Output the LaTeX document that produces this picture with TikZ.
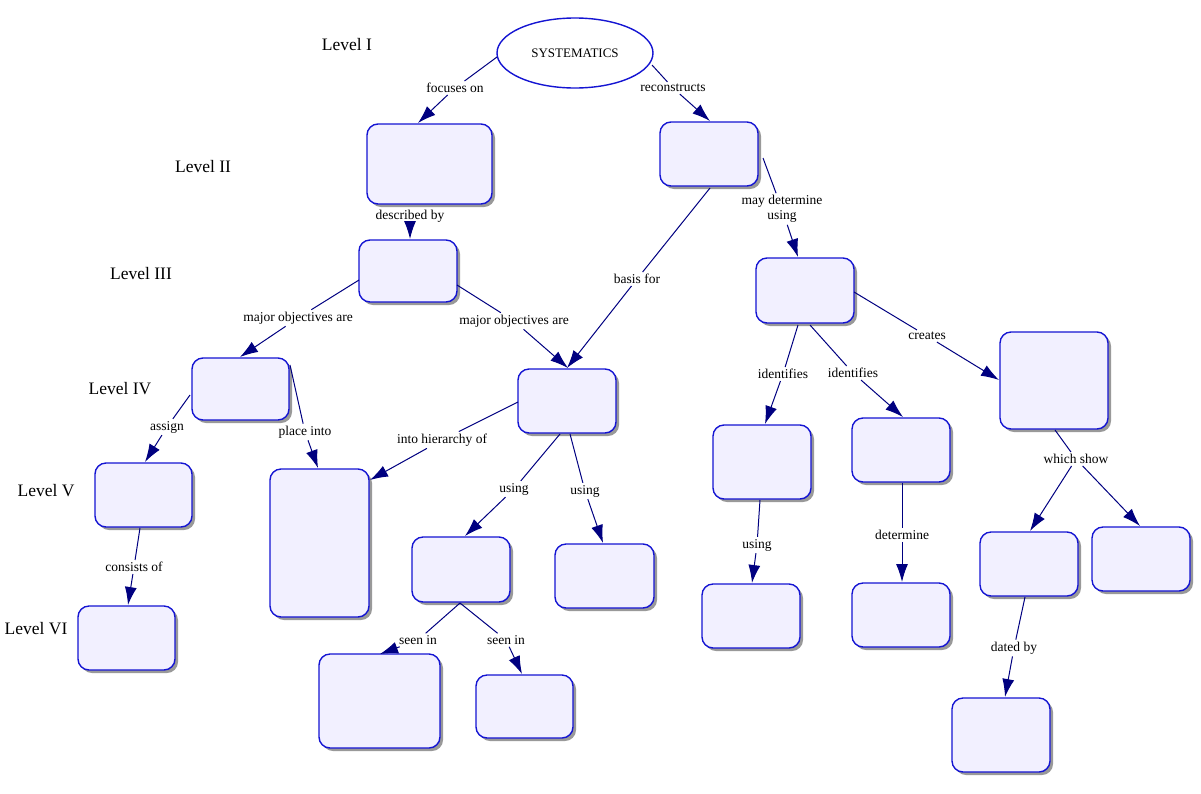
\documentclass[tikz,border=0pt]{standalone}
\usepackage{fontspec}
\setmainfont{Liberation Serif}
\usetikzlibrary{arrows.meta,shadows,shapes.geometric}
\definecolor{navy}{RGB}{0,0,128}
\definecolor{bfill}{RGB}{242,240,255}
\definecolor{bdraw}{RGB}{20,20,210}
\begin{document}
\begin{tikzpicture}[x=1pt,y=-1pt,
  box/.style={draw=bdraw,line width=1.4pt,fill=bfill,rounded corners=11pt,inner sep=0pt,
    drop shadow={shadow xshift=3pt,shadow yshift=-3pt,fill=gray!80,opacity=1}},
  lab/.style={font=\fontsize{13.5}{15}\selectfont,inner sep=2pt},
  lev/.style={font=\fontsize{17.5}{19}\selectfont},
  ln/.style={draw=navy,line width=1pt},
  ar/.style={draw=navy,line width=1pt,-{Latex[length=18pt,width=12pt]}}]
\useasboundingbox (0,0) rectangle (1201,793);
\def\bx#1#2#3#4#5{\node[box,minimum width=#4-#2,minimum height=#5-#3] (#1) at ({(#2+#4)/2},{(#3+#5)/2}) {};}
\bx{A}{367}{124}{492}{204}
\bx{B}{660}{122}{758}{186}
\bx{C}{359}{240}{457}{302}
\bx{D}{756}{258}{854}{323}
\bx{E}{192}{358}{289}{420}
\bx{F}{518}{369}{616}{433}
\bx{G}{1000}{332}{1108}{429}
\bx{H}{95}{463}{192}{527}
\bx{I}{270}{469}{369}{617}
\bx{J}{713}{425}{811}{499}
\bx{K}{852}{418}{950}{482}
\bx{L}{412}{537}{510}{602}
\bx{M}{555}{544}{654}{608}
\bx{N}{980}{532}{1078}{596}
\bx{O}{1092}{527}{1190}{591}
\bx{P}{78}{606}{175}{670}
\bx{Q}{702}{584}{800}{648}
\bx{R}{852}{583}{950}{647}
\bx{S}{319}{654}{440}{748}
\bx{T}{476}{675}{573}{738}
\bx{U}{952}{698}{1050}{772}
\node[draw=bdraw,fill=white,line width=1.4pt,ellipse,minimum width=156pt,minimum height=70pt,
  font=\fontsize{13}{14}\selectfont] (sys) at (575,53) {SYSTEMATICS};
\node[lev] (l1) at (347,45) {Level I};
\node[lev] (l2) at (203,167) {Level II};
\node[lev] (l3) at (141,274) {Level III};
\node[lev] (l4) at (120,389) {Level IV};
\node[lev] (l5) at (46,491) {Level V};
\node[lev] (l6) at (36,629) {Level VI};
% labels
\node[lab] (t1) at (455,88) {focuses on};
\node[lab] (t2) at (673,88) {reconstructs};
\node[lab] (t3) at (410,216) {described by};
\node[lab,align=center] (t4) at (782,209) {may determine\\using};
\node[lab] (t5) at (637,279) {basis for};
\node[lab] (t6) at (298,318) {major objectives are};
\node[lab] (t7) at (514,321) {major objectives are};
\node[lab] (t8) at (927,336) {creates};
\node[lab] (t9) at (783,374) {identifies};
\node[lab] (t10) at (853,373) {identifies};
\node[lab] (t11) at (167,427) {assign};
\node[lab] (t12) at (305,432) {place into};
\node[lab] (t13) at (442,440) {into hierarchy of};
\node[lab] (t14) at (514,489) {using};
\node[lab] (t15) at (585,491) {using};
\node[lab] (t16) at (1076,459) {which show};
\node[lab] (t17) at (134,567) {consists of};
\node[lab] (t18) at (418,640) {seen in};
\node[lab] (t19) at (506,640) {seen in};
\node[lab] (t20) at (757,545) {using};
\node[lab] (t21) at (902,535) {determine};
\node[lab] (t22) at (1014,648) {dated by};
% endpoints
\coordinate (a1) at (418,123); \coordinate (a2) at (710,121);
\coordinate (a3) at (410,239); \coordinate (a4) at (798,257);
\coordinate (a5) at (567,368); \coordinate (a6) at (240,357);
\coordinate (a7) at (568,368); \coordinate (a8) at (999,380);
\coordinate (a9) at (765,424); \coordinate (a10) at (903,417);
\coordinate (a11) at (145,462); \coordinate (a12) at (318,468);
\coordinate (a13) at (370,480); \coordinate (a14) at (465,536);
\coordinate (a15) at (603,543); \coordinate (a16) at (1030,531);
\coordinate (a17) at (1140,526); \coordinate (a18) at (128,605);
\coordinate (a19) at (380,654); \coordinate (a20) at (522,674);
\coordinate (a21) at (752,583); \coordinate (a22) at (902,582);
\coordinate (a23) at (1005,697);
\coordinate (s1) at (497,57); \coordinate (s2) at (652,65);
\coordinate (s4) at (763,158); \coordinate (s5) at (710,188);
\coordinate (s6) at (359,280); \coordinate (s7) at (457,285);
\coordinate (s8) at (854,292); \coordinate (s9) at (798,325); \coordinate (s10) at (810,325);
\coordinate (s11) at (190,395); \coordinate (s12) at (290,365);
\coordinate (s13) at (518,402); \coordinate (s14) at (560,434); \coordinate (s15) at (570,434);
\coordinate (s16) at (1055,430); \coordinate (s17) at (140,528);
\coordinate (s18) at (460,603); \coordinate (s20) at (760,500);
\coordinate (s21) at (902,483); \coordinate (s22) at (1025,597);
\path[ln] (s1) -- (t1); \path[ar] (t1) -- (a1);
\path[ln] (s2) -- (t2); \path[ar] (t2) -- (a2);
\path[ar] (t3) -- (a3);
\path[ln] (s4) -- (t4); \path[ar] (t4) -- (a4);
\path[ln] (s5) -- (t5); \path[ar] (t5) -- (a5);
\path[ln] (s6) -- (t6); \path[ar] (t6) -- (a6);
\path[ln] (s7) -- (t7); \path[ar] (t7) -- (a7);
\path[ln] (s8) -- (t8); \path[ar] (t8) -- (a8);
\path[ln] (s9) -- (t9); \path[ar] (t9) -- (a9);
\path[ln] (s10) -- (t10); \path[ar] (t10) -- (a10);
\path[ln] (s11) -- (t11); \path[ar] (t11) -- (a11);
\path[ln] (s12) -- (t12); \path[ar] (t12) -- (a12);
\path[ln] (s13) -- (t13); \path[ar] (t13) -- (a13);
\path[ln] (s14) -- (t14); \path[ar] (t14) -- (a14);
\path[ln] (s15) -- (t15); \path[ar] (t15) -- (a15);
\path[ln] (s16) -- (t16); \path[ar] (t16) -- (a16); \path[ar] (t16) -- (a17);
\path[ln] (s17) -- (t17); \path[ar] (t17) -- (a18);
\path[ln] (s18) -- (t18); \path[ar] (t18) -- (a19);
\path[ln] (s18) -- (t19); \path[ar] (t19) -- (a20);
\path[ln] (s20) -- (t20); \path[ar] (t20) -- (a21);
\path[ln] (s21) -- (t21); \path[ar] (t21) -- (a22);
\path[ln] (s22) -- (t22); \path[ar] (t22) -- (a23);
\end{tikzpicture}
\end{document}
